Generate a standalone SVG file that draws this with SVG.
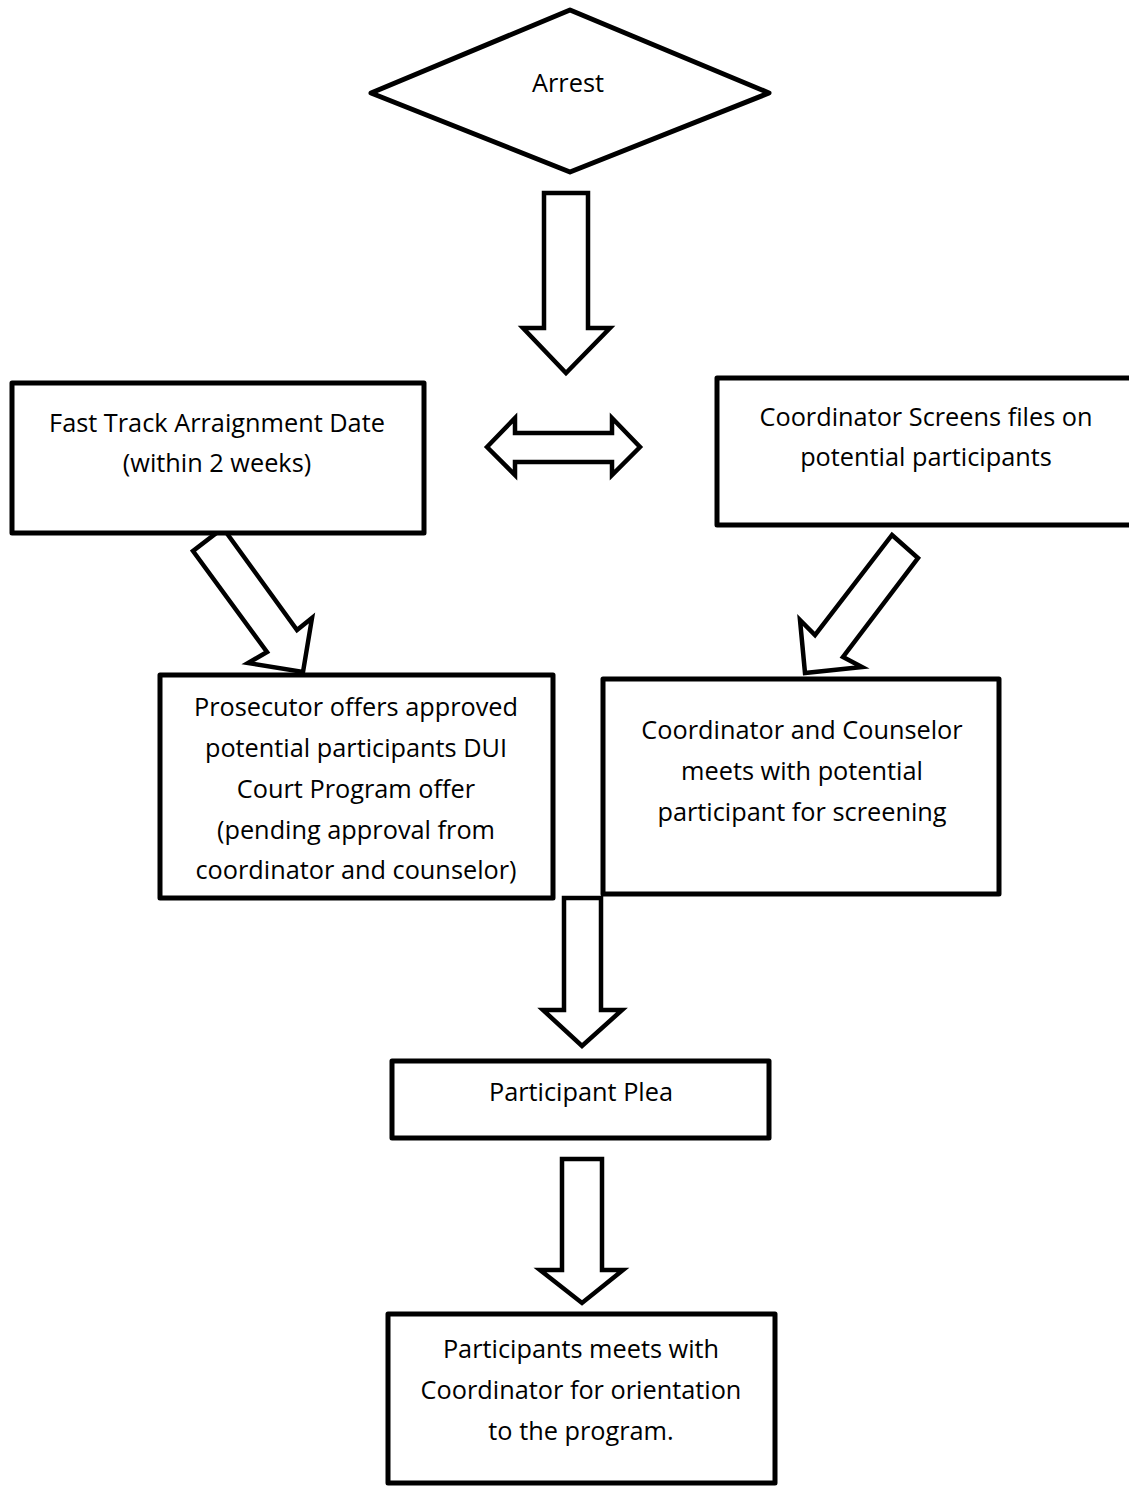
<svg xmlns="http://www.w3.org/2000/svg" width="1129" height="1487" viewBox="0 0 1129 1487">
<style>
.node{fill:#fff;stroke:#000;stroke-width:5;stroke-linejoin:round}
.arr{fill:#fff;stroke:#000;stroke-width:4.5;stroke-linejoin:miter}
text{font-family:"Open Sans","Noto Sans",sans-serif;font-size:25.3px;fill:#000;text-anchor:middle}
</style>
<rect width="1129" height="1487" fill="#fff"/>
<g id="connectors">
<polygon class="arr" points="544,193 588,193 588,328 610,328 566,373 523,328 544,328"/>
<polygon class="arr" points="487,447 515,418 515,433 612,433 612,418 640,447 612,475 612,462 515,462 515,475"/>
<polygon class="arr" points="223,528 297,630 312,618 303,672 248,663 267,652 193,551"/>
<polygon class="arr" points="892,535 918,558 843,657 862,667 805,673 800,620 815,635"/>
<polygon class="arr" points="564,898 601,898 601,1010 622,1010 582,1046 543,1010 564,1010"/>
<polygon class="arr" points="562,1159 602,1159 602,1270 623,1270 582,1303 540,1270 562,1270"/>
</g>
<g id="arrest">
<polygon class="node" points="570,10 769,93 570,172 371,93"/>
<text x="568" y="92">Arrest</text>
</g>
<g id="fasttrack">
<rect class="node" x="12" y="383" width="412" height="150"/>
<text x="217" y="432">Fast Track Arraignment Date</text>
<text x="217" y="472">(within 2 weeks)</text>
</g>
<g id="screens">
<rect class="node" x="717" y="378" width="460" height="147"/>
<text x="926" y="426">Coordinator Screens files on</text>
<text x="926" y="466">potential participants</text>
</g>
<g id="prosecutor">
<rect class="node" x="160" y="675" width="393" height="223"/>
<text x="356" y="716">Prosecutor offers approved</text>
<text x="356" y="757">potential participants DUI</text>
<text x="356" y="798">Court Program offer</text>
<text x="356" y="839">(pending approval from</text>
<text x="356" y="879">coordinator and counselor)</text>
</g>
<g id="counselor">
<rect class="node" x="603" y="679" width="396" height="215"/>
<text x="802" y="739">Coordinator and Counselor</text>
<text x="802" y="780">meets with potential</text>
<text x="802" y="821">participant for screening</text>
</g>
<g id="plea">
<rect class="node" x="392" y="1061" width="377" height="77"/>
<text x="581" y="1101">Participant Plea</text>
</g>
<g id="orientation">
<rect class="node" x="388" y="1314" width="387" height="169"/>
<text x="581" y="1358">Participants meets with</text>
<text x="581" y="1399">Coordinator for orientation</text>
<text x="581" y="1440">to the program.</text>
</g>
</svg>
